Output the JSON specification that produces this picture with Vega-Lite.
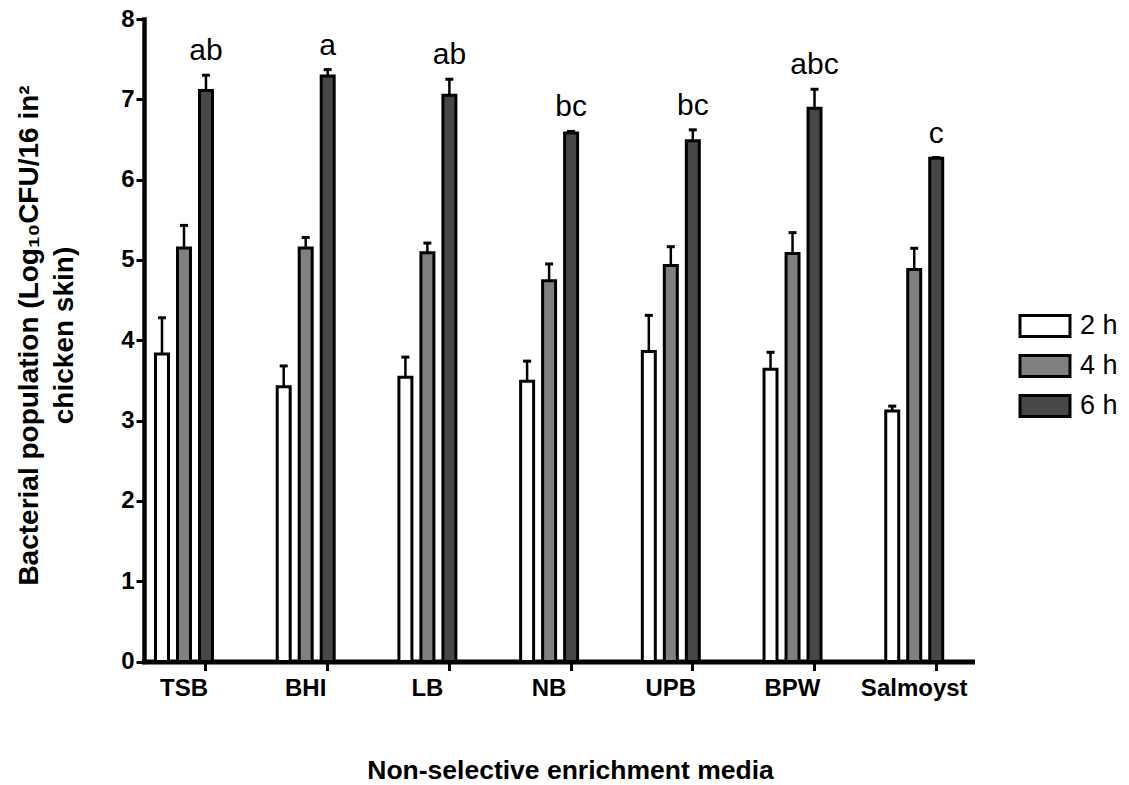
{
  "$schema": "https://vega.github.io/schema/vega-lite/v6.json",
  "width": 828,
  "height": 642.5,
  "autosize": {"type": "none"},
  "padding": {"left": 144, "top": 19, "right": 157, "bottom": 123.5},
  "config": {"view": {"stroke": null}, "font": "Liberation Sans"},
  "data": {
    "values": [
      {"medium": "TSB", "time": "2 h", "mean": 3.83, "upper": 4.28},
      {"medium": "TSB", "time": "4 h", "mean": 5.15, "upper": 5.43},
      {"medium": "TSB", "time": "6 h", "mean": 7.11, "upper": 7.30, "letter": "ab"},
      {"medium": "BHI", "time": "2 h", "mean": 3.42, "upper": 3.68},
      {"medium": "BHI", "time": "4 h", "mean": 5.15, "upper": 5.28},
      {"medium": "BHI", "time": "6 h", "mean": 7.29, "upper": 7.37, "letter": "a"},
      {"medium": "LB", "time": "2 h", "mean": 3.54, "upper": 3.79},
      {"medium": "LB", "time": "4 h", "mean": 5.09, "upper": 5.21},
      {"medium": "LB", "time": "6 h", "mean": 7.05, "upper": 7.25, "letter": "ab"},
      {"medium": "NB", "time": "2 h", "mean": 3.49, "upper": 3.74},
      {"medium": "NB", "time": "4 h", "mean": 4.74, "upper": 4.95},
      {"medium": "NB", "time": "6 h", "mean": 6.58, "upper": 6.60, "letter": "bc"},
      {"medium": "UPB", "time": "2 h", "mean": 3.86, "upper": 4.31},
      {"medium": "UPB", "time": "4 h", "mean": 4.93, "upper": 5.165},
      {"medium": "UPB", "time": "6 h", "mean": 6.485, "upper": 6.62, "letter": "bc"},
      {"medium": "BPW", "time": "2 h", "mean": 3.64, "upper": 3.85},
      {"medium": "BPW", "time": "4 h", "mean": 5.08, "upper": 5.34},
      {"medium": "BPW", "time": "6 h", "mean": 6.89, "upper": 7.125, "letter": "abc"},
      {"medium": "Salmoyst", "time": "2 h", "mean": 3.12, "upper": 3.18},
      {"medium": "Salmoyst", "time": "4 h", "mean": 4.88, "upper": 5.145},
      {"medium": "Salmoyst", "time": "6 h", "mean": 6.265, "upper": 6.275, "letter": "c"}
    ]
  },
  "encoding": {
    "x": {
      "field": "medium",
      "type": "nominal",
      "sort": ["TSB", "BHI", "LB", "NB", "UPB", "BPW", "Salmoyst"],
      "scale": {"paddingInner": 0.532, "paddingOuter": 0.1676, "align": 0.282},
      "axis": {
        "title": "Non-selective enrichment media",
        "bandPosition": 0.886,
        "labelAngle": 0,
        "domainColor": "black",
        "domainWidth": 5,
        "domainCap": "square",
        "tickColor": "black",
        "tickWidth": 3,
        "tickSize": 9,
        "labelFont": "Liberation Sans",
        "labelFontWeight": "bold",
        "labelFontSize": 24,
        "labelColor": "black",
        "labelPadding": 6,
        "titleFont": "Liberation Sans",
        "titleFontWeight": "bold",
        "titleFontSize": 26.5,
        "titleColor": "black",
        "titlePadding": 57,
        "titleX": 426,
        "titleAlign": "center"
      }
    },
    "xOffset": {
      "field": "time",
      "type": "nominal",
      "sort": ["2 h", "4 h", "6 h"],
      "scale": {"paddingInner": 0.41, "paddingOuter": 0}
    }
  },
  "layer": [
    {
      "mark": {"type": "bar", "stroke": "black", "strokeWidth": 3},
      "encoding": {
        "y": {
          "field": "mean",
          "type": "quantitative",
          "scale": {"domain": [0, 8], "nice": false},
          "axis": {
            "title": ["Bacterial population (Log₁₀CFU/16 in²", "chicken skin)"],
            "values": [0, 1, 2, 3, 4, 5, 6, 7, 8],
            "format": "d",
            "grid": false,
            "domainColor": "black",
            "domainWidth": 4.5,
            "domainCap": "square",
            "tickColor": "black",
            "tickWidth": 3,
            "tickSize": 8,
            "labelFont": "Liberation Sans",
            "labelFontWeight": "bold",
            "labelFontSize": 24,
            "labelColor": "black",
            "labelPadding": 2,
            "titleFont": "Liberation Sans",
            "titleFontWeight": "bold",
            "titleFontSize": 28,
            "titleColor": "black",
            "titlePadding": 42,
            "titleLineHeight": 35,
            "titleY": 316
          }
        },
        "fill": {
          "field": "time",
          "type": "nominal",
          "scale": {"domain": ["2 h", "4 h", "6 h"], "range": ["#ffffff", "#808080", "#474747"]},
          "legend": {
            "title": null,
            "orient": "none",
            "legendX": 887.5,
            "legendY": 293.5,
            "symbolType": "M-2.38,-1H2.38V1H-2.38Z",
            "symbolSize": 441,
            "symbolStrokeColor": "black",
            "symbolStrokeWidth": 3,
            "symbolOpacity": 1,
            "labelFont": "Liberation Sans",
            "labelFontSize": 27,
            "labelColor": "black",
            "labelOffset": 21.5,
            "rowPadding": 7
          }
        }
      }
    },
    {
      "mark": {"type": "rule", "strokeWidth": 2.5, "color": "black"},
      "encoding": {
        "y": {"field": "mean", "type": "quantitative", "axis": {"title": ["Bacterial population (Log₁₀CFU/16 in²", "chicken skin)"], "format": "d"}},
        "y2": {"field": "upper"}
      }
    },
    {
      "mark": {"type": "tick", "color": "black", "thickness": 3, "size": 8, "opacity": 1},
      "encoding": {
        "y": {"field": "upper", "type": "quantitative", "axis": {"title": ["Bacterial population (Log₁₀CFU/16 in²", "chicken skin)"], "format": "d"}}
      }
    },
    {
      "transform": [{"filter": "datum.letter != null"}],
      "mark": {"type": "text", "dy": -15, "fontSize": 30, "baseline": "alphabetic", "font": "Liberation Sans", "color": "black"},
      "encoding": {
        "y": {"field": "upper", "type": "quantitative", "axis": {"title": ["Bacterial population (Log₁₀CFU/16 in²", "chicken skin)"], "format": "d"}},
        "text": {"field": "letter"}
      }
    }
  ]
}
